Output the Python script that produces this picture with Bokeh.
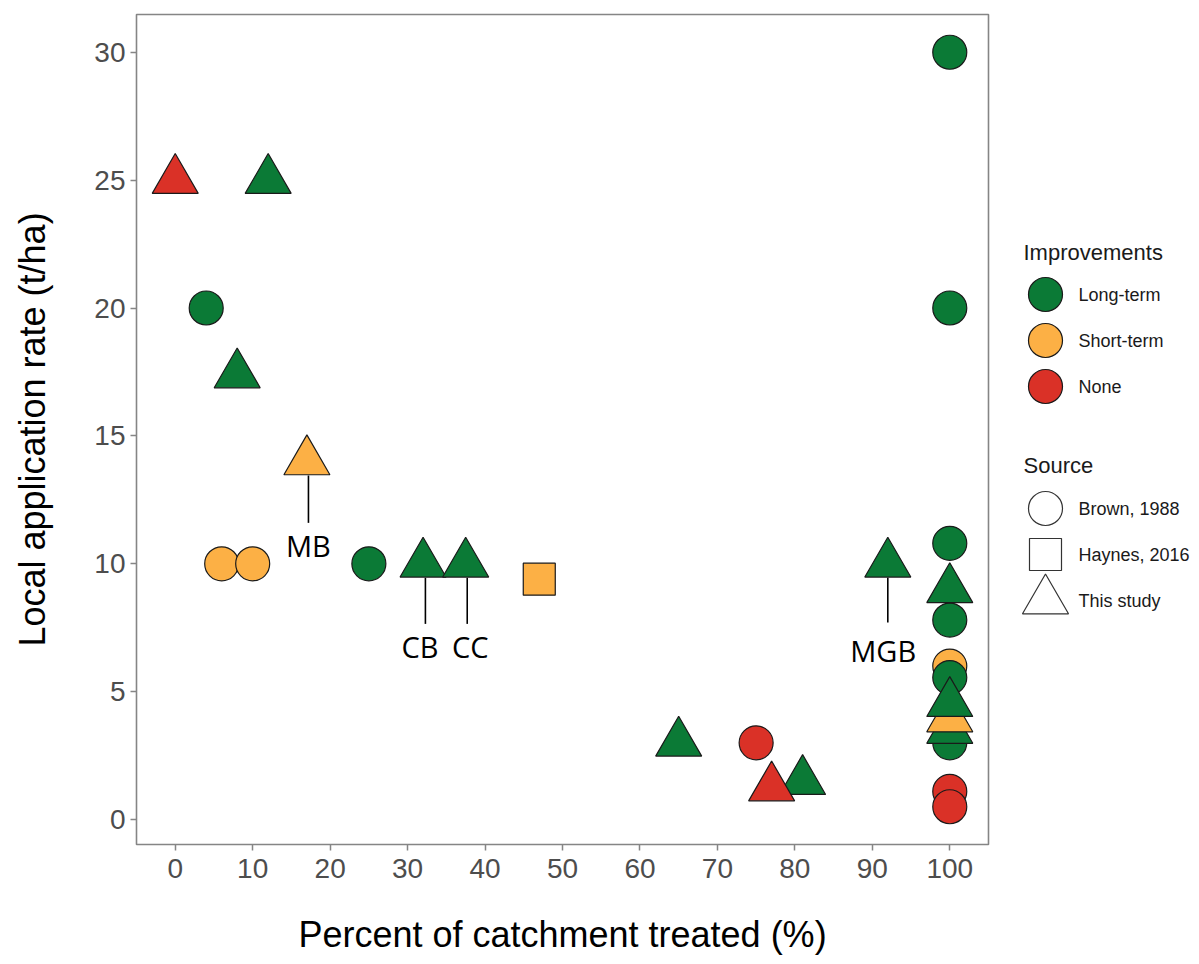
from bokeh.plotting import figure
from bokeh.models import Range1d, ColumnDataSource, FixedTicker
from bokeh.layouts import row
from bokeh.embed import file_html
from bokeh.resources import INLINE
from bokeh.core.properties import value

# ---------------- data ----------------
improvement_levels = ["Long-term", "Short-term", "None"]
source_levels = ["Brown, 1988", "Haynes, 2016", "This study"]

# Brown, 1988 (circles)
brown_x = [100, 100, 4, 6, 10, 25, 75, 100, 100, 100, 100, 100, 100, 100]
brown_y = [30, 20, 20, 10, 10, 10, 3, 10.8, 7.8, 6.0, 5.55, 3.0, 1.1, 0.5]
brown_imp = ["Long-term", "Long-term", "Long-term", "Short-term", "Short-term",
             "Long-term", "None", "Long-term", "Long-term", "Short-term",
             "Long-term", "Long-term", "None", "None"]

# Haynes, 2016 (square)
haynes_x = [47]
haynes_y = [9.4]
haynes_imp = ["Short-term"]

# This study (triangles)
study_x = [0, 12, 8, 17, 32, 37.5, 65, 81, 77, 92, 100, 100, 100, 100]
study_y = [25, 25, 17.4, 14, 10, 10, 3, 1.5, 1.25, 10, 9, 3.5, 3.95, 4.55]
study_imp = ["None", "Long-term", "Long-term", "Short-term", "Long-term",
             "Long-term", "Long-term", "Long-term", "None", "Long-term",
             "Long-term", "Long-term", "Short-term", "Long-term"]

# site annotations
ann_text = ["MB", "CB", "CC", "MGB"]
ann_x = [17.2, 32.3, 37.7, 92]
ann_top = [13.45, 9.45, 9.45, 9.45]
ann_bottom = [11.6, 7.65, 7.65, 7.7]
ann_label_x = [17.2, 31.6, 38.1, 91.4]
ann_label_y = [10.7, 6.75, 6.75, 6.6]

x_ticks = list(range(0, 101, 10))
y_ticks = list(range(0, 31, 5))

# ---------------- styles ----------------
palette = {"Long-term": "#0B7A36", "Short-term": "#FCB045", "None": "#DA3127"}
OUT = "#1A1A1A"
FONT = "Liberation Sans"
CIRC = 34
SQ = 32
TRI = 46

H = 963
BT = 14
BB = 119

p = figure(width=1000, height=H,
           x_range=Range1d(-5, 105), y_range=Range1d(-0.975, 31.475),
           output_backend="svg", toolbar_location=None,
           min_border_left=136, min_border_right=12,
           min_border_top=BT, min_border_bottom=BB)
p.grid.visible = False
p.background_fill_color = "white"
p.outline_line_color = "#858585"
p.outline_line_width = 1.6

p.xaxis.ticker = FixedTicker(ticks=x_ticks)
p.yaxis.ticker = FixedTicker(ticks=y_ticks)
for ax in (p.xaxis[0], p.yaxis[0]):
    ax.axis_line_color = None
    ax.major_tick_in = 0
    ax.major_tick_out = 6
    ax.major_tick_line_color = "#858585"
    ax.major_tick_line_width = 1.5
    ax.minor_tick_line_color = None
    ax.major_label_text_font = FONT
    ax.major_label_text_font_size = "28px"
    ax.major_label_text_color = "#4D4D4D"
    ax.axis_label_text_font = FONT
    ax.axis_label_text_font_size = "36px"
    ax.axis_label_text_font_style = "normal"
    ax.axis_label_text_color = "#000000"
p.xaxis.axis_label = "Percent of catchment treated (%)"
p.yaxis.axis_label = "Local application rate (t/ha)"
p.xaxis.major_label_standoff = 8
p.xaxis.axis_label_standoff = 33
p.yaxis.major_label_standoff = 5
p.yaxis.axis_label_standoff = 38

src_b = ColumnDataSource(dict(x=brown_x, y=brown_y, c=[palette[i] for i in brown_imp]))
src_h = ColumnDataSource(dict(x=haynes_x, y=haynes_y, c=[palette[i] for i in haynes_imp]))
src_s = ColumnDataSource(dict(x=study_x, y=study_y, c=[palette[i] for i in study_imp]))

p.scatter("x", "y", source=src_b, marker="circle", size=CIRC,
          fill_color="c", line_color=OUT, line_width=1.2)
p.scatter("x", "y", source=src_h, marker="square", size=SQ,
          fill_color="c", line_color=OUT, line_width=1.2)
p.scatter("x", "y", source=src_s, marker="triangle", size=TRI,
          fill_color="c", line_color=OUT, line_width=1.2)

p.segment(x0=ann_x, y0=ann_top, x1=ann_x, y1=ann_bottom,
          line_color="black", line_width=1.6)
p.text(x=ann_label_x, y=ann_label_y, text=ann_text,
       text_font=value("Open Sans"), text_font_size="29px",
       text_align="center", text_baseline="middle", text_color="black")

# ---------------- legend panel ----------------
# frame of this panel is aligned with the main frame; its y-range runs in page pixels
leg = figure(width=190, height=H, x_range=Range1d(0, 190),
             y_range=Range1d(H - BB, BT),
             output_backend="svg", toolbar_location=None,
             x_axis_type=None, y_axis_type=None,
             min_border_left=0, min_border_right=0,
             min_border_top=BT, min_border_bottom=BB)
leg.grid.visible = False
leg.outline_line_color = None

key_x = 45
lab_x = 78
title_x = 23
imp_title_y = 252
imp_y0 = 294
src_title_y = 465
src_y0 = 508
step = 46

leg.text(x=[title_x, title_x], y=[imp_title_y, src_title_y],
         text=["Improvements", "Source"], text_font=value(FONT),
         text_font_size="22px", text_baseline="middle", text_align="left",
         text_color="#1A1A1A")

imp_ys = [imp_y0 + step * i for i in range(len(improvement_levels))]
leg.scatter(x=[key_x] * len(improvement_levels), y=imp_ys, marker="circle", size=CIRC,
            fill_color=[palette[k] for k in improvement_levels], line_color=OUT, line_width=1.2)
leg.text(x=[lab_x] * len(improvement_levels), y=imp_ys, text=improvement_levels,
         text_font=value(FONT), text_font_size="18px", text_baseline="middle",
         text_color="#1A1A1A")

src_ys = [src_y0 + step * i for i in range(len(source_levels))]
leg.scatter(x=[key_x] * 3, y=src_ys, marker=["circle", "square", "triangle"],
            size=[CIRC, SQ, TRI], fill_color="white", line_color="#333333", line_width=1.2)
leg.text(x=[lab_x] * len(source_levels), y=src_ys, text=source_levels,
         text_font=value(FONT), text_font_size="18px", text_baseline="middle",
         text_color="#1A1A1A")

layout = row(p, leg)
open("out.html", "w").write(file_html(layout, INLINE))
